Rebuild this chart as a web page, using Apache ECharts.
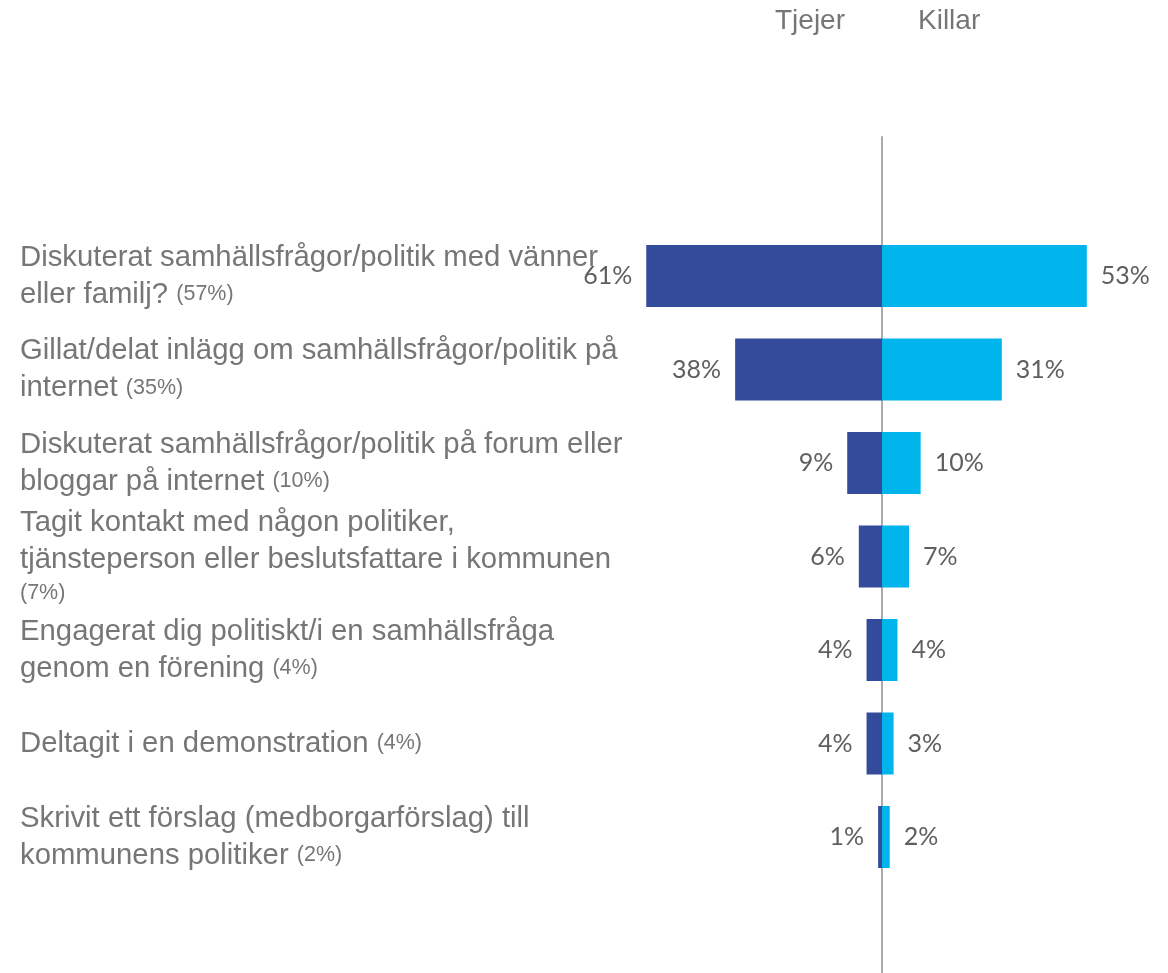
<!DOCTYPE html>
<html>
<head>
<meta charset="utf-8">
<script src="https://cdn.jsdelivr.net/npm/echarts@6/dist/echarts.min.js"></script>
<style>
  html, body { margin: 0; padding: 0; background: #fff; }
  #chart { width: 1168px; height: 973px; }
</style>
</head>
<body>
<div id="chart"></div>
<script>
// frågor (radbrytningar som i originalet)
var categories = [
	'Diskuterat samhällsfrågor/politik med vänner\neller familj?',
	'Gillat/delat inlägg om samhällsfrågor/politik på\ninternet',
	'Diskuterat samhällsfrågor/politik på forum eller\nbloggar på internet',
	'Tagit kontakt med någon politiker,\ntjänsteperson eller beslutsfattare i kommunen\n',
	'Engagerat dig politiskt/i en samhällsfråga\ngenom en förening',
	'Deltagit i en demonstration',
	'Skrivit ett förslag (medborgarförslag) till\nkommunens politiker'
];
var totals = [57, 35, 10, 7, 4, 4, 2];
var tjejer = [61, 38, 9, 6, 4, 4, 1];
var killar = [53, 31, 10, 7, 4, 3, 2];
var groups = ['Tjejer', 'Killar'];

var labels = [];
for (var i = 0; i < categories.length; i++) {
	var sep = categories[i].charAt(categories[i].length - 1) == '\n' ? '' : ' ';
	labels.push(categories[i] + sep + '{b|(' + totals[i] + '%)}');
}
var tjejerNeg = tjejer.map(function (v) { return -v; });

var textGrey = '#767676';
var valueGrey = '#5f5f5f';

var myChart = echarts.init(document.getElementById('chart'));
var option = {
	animation: false,
	title: [
		{ text: groups[0], left: 775, top: 7, padding: 0,
		  textStyle: { fontFamily: 'Liberation Sans', fontSize: 28, fontWeight: 'normal', color: textGrey } },
		{ text: groups[1], left: 918, top: 7, padding: 0,
		  textStyle: { fontFamily: 'Liberation Sans', fontSize: 28, fontWeight: 'normal', color: textGrey } }
	],
	grid: [
		{ left: 596, right: 0, top: 229.25, bottom: 89.25 },
		{ left: 596, right: 0, top: 137, bottom: 0 }
	],
	xAxis: [
		{ type: 'value', gridIndex: 0, min: -74, max: 74, show: false },
		{ type: 'value', gridIndex: 1, min: -74, max: 74, show: false }
	],
	yAxis: [
		{
			type: 'category',
			gridIndex: 0,
			inverse: true,
			data: labels,
			axisLine: { show: false },
			axisTick: { show: false },
			splitLine: { show: false },
			axisLabel: {
				align: 'left',
				margin: 576,
				fontFamily: 'Liberation Sans',
				fontSize: 29.3,
				lineHeight: 37,
				color: textGrey,
				rich: {
					b: { fontFamily: 'Liberation Sans', fontSize: 21.5, lineHeight: 30, color: textGrey }
				}
			}
		},
		{
			// mittlinjen
			type: 'value',
			gridIndex: 1,
			min: 0,
			max: 1,
			axisLine: { show: true, onZero: true, lineStyle: { color: '#ababab', width: 2 } },
			axisTick: { show: false },
			axisLabel: { show: false },
			splitLine: { show: false }
		}
	],
	series: [
		{
			name: groups[0],
			type: 'bar',
			xAxisIndex: 0,
			yAxisIndex: 0,
			data: tjejerNeg,
			barWidth: 62,
			barGap: '-100%',
			itemStyle: { color: '#344b9b' },
			label: {
				show: true,
				position: 'left',
				distance: 14,
				fontFamily: 'Lato',
				fontSize: 25,
				color: valueGrey,
				formatter: function (p) { return Math.abs(p.value) + '%'; }
			}
		},
		{
			name: groups[1],
			type: 'bar',
			xAxisIndex: 0,
			yAxisIndex: 0,
			data: killar,
			barWidth: 62,
			itemStyle: { color: '#00b4ec' },
			label: {
				show: true,
				position: 'right',
				distance: 14,
				fontFamily: 'Lato',
				fontSize: 25,
				color: valueGrey,
				formatter: function (p) { return p.value + '%'; }
			}
		}
	]
};
myChart.setOption(option);
</script>
</body>
</html>
